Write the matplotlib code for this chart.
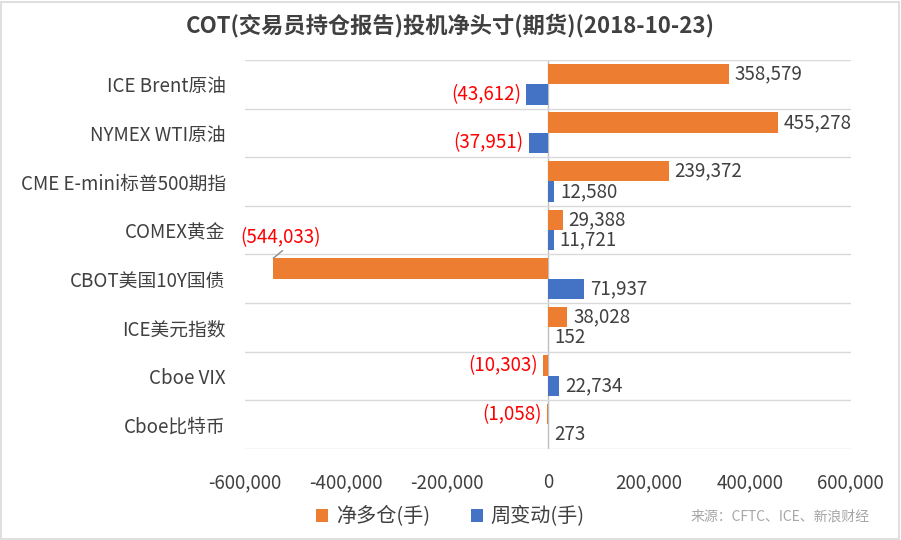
import matplotlib
matplotlib.use("Agg")
import matplotlib.pyplot as plt
from matplotlib.patches import Rectangle
from matplotlib.ticker import FuncFormatter

plt.rcParams['font.family'] = ['Noto Sans CJK SC', 'DejaVu Sans']

# 数据
categories = ['ICE Brent原油', 'NYMEX WTI原油', 'CME E-mini标普500期指', 'COMEX黄金',
              'CBOT美国10Y国债', 'ICE美元指数', 'Cboe VIX', 'Cboe比特币']
net_long = [358579, 455278, 239372, 29388, -544033, 38028, -10303, -1058]
weekly_change = [-43612, -37951, 12580, 11721, 71937, 152, 22734, 273]
xticks = [-600000, -400000, -200000, 0, 200000, 400000, 600000]

ORANGE = '#ED7D31'
BLUE = '#4472C4'
TXT = '#404040'
FS = 13.5

fig = plt.figure(figsize=(9.01, 5.40), dpi=100)
ax = fig.add_axes([0.272, 0.169, 0.672, 0.72])

h = 0.42
ypos = list(range(len(categories)))
ax.barh([y - h / 2 for y in ypos], net_long, height=h, color=ORANGE, label='净多仓(手)')
ax.barh([y + h / 2 for y in ypos], weekly_change, height=h, color=BLUE, label='周变动(手)')

def fmt(v):
    return f'({abs(v):,})' if v < 0 else f'{v:,}'

for series, off in ((net_long, -h / 2), (weekly_change, h / 2)):
    for y, v in zip(ypos, series):
        if v < 0:
            if v < -500000:
                # 标签移到上方，用引导线连接
                ax.annotate(fmt(v), xy=(v, y + off - h / 2), xytext=(-530000, y - 0.85),
                            color='red', fontsize=FS, ha='center', va='center',
                            zorder=5,
                            arrowprops=dict(arrowstyle='-', color='#8C8C8C', lw=1,
                                            shrinkA=0, shrinkB=0,
                                            relpos=(0.6, 0.1)))
            else:
                ax.text(v - 10000, y + off, fmt(v), color='red', fontsize=FS,
                        ha='right', va='center')
        else:
            ax.text(v + 12000, y + off, fmt(v), color=TXT, fontsize=FS,
                    ha='left', va='center')

ax.set_xlim(-600000, 600000)
ax.set_ylim(len(categories) - 0.5, -0.5)
ax.set_xticks(xticks)
ax.xaxis.set_major_formatter(FuncFormatter(lambda v, p: f'{int(v):,}'))
ax.set_yticks(ypos)
ax.set_yticklabels(categories)
ax.set_yticks([y - 0.5 for y in range(len(categories) + 1)], minor=True)
ax.grid(which='minor', axis='y', color='#D9D9D9', lw=1)
ax.tick_params(axis='both', which='both', length=0, labelsize=FS, labelcolor=TXT)
ax.tick_params(axis='y', pad=14)
ax.tick_params(axis='x', pad=17)
for s in ax.spines.values():
    s.set_visible(False)
ax.axvline(0, color='#BFBFBF', lw=1, zorder=0.5)
ax.set_axisbelow(True)

fig.suptitle('COT(交易员持仓报告)投机净头寸(期货)(2018-10-23)', y=0.975,
             fontsize=16, fontweight='bold', color='#404040')

fig.legend(loc='center', bbox_to_anchor=(0.5, 0.043), ncol=2, frameon=False,
           fontsize=14.5, handlelength=0.6, handleheight=0.6, handletextpad=0.4,
           columnspacing=2.0, labelcolor=TXT)
fig.text(0.965, 0.043, '来源：CFTC、ICE、新浪财经', ha='right', va='center',
         fontsize=10, color='#A6A6A6')

fig.patches.append(Rectangle((0.001, 0.002), 0.997, 0.995, transform=fig.transFigure,
                             fill=False, edgecolor='#D9D9D9', lw=1.2))

fig.savefig('out.png', dpi=100)
